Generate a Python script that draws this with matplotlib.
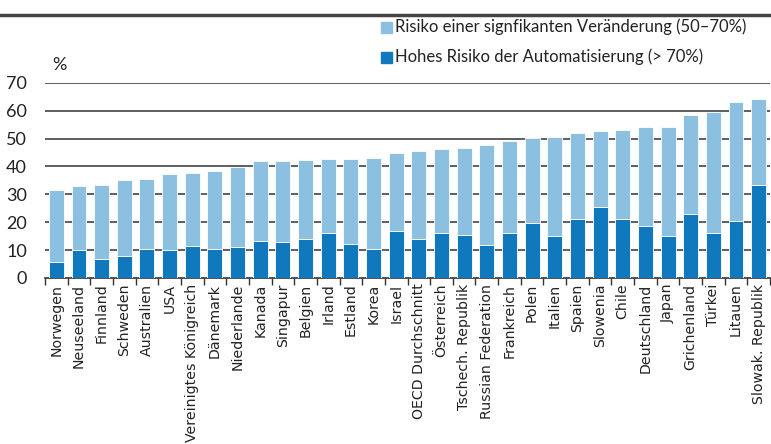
import matplotlib
matplotlib.use('Agg')
import matplotlib.pyplot as plt
import numpy as np

## data (percent of jobs)
countries = ['Norwegen', 'Neuseeland', 'Finnland', 'Schweden', 'Australien', 'USA',
             'Vereinigtes Königreich', 'Dänemark', 'Niederlande', 'Kanada', 'Singapur',
             'Belgien', 'Irland', 'Estland', 'Korea', 'Israel', 'OECD Durchschnitt',
             'Österreich', 'Tschech. Republik', 'Russian Federation', 'Frankreich',
             'Polen', 'Italien', 'Spaien', 'Slowenia', 'Chile', 'Deutschland', 'Japan',
             'Grichenland', 'Türkei', 'Litauen', 'Slowak. Republik']
high_risk = [5.6, 9.9, 6.9, 7.8, 10.5, 10.1, 11.6, 10.5, 11.2, 13.1, 12.8,
             13.8, 16.0, 12.2, 10.5, 16.7, 13.8, 16.3, 15.3, 11.8, 16.3,
             19.7, 14.9, 21.3, 25.6, 21.3, 18.5, 14.9, 23.1, 16.3, 20.6, 33.5]
total_risk = [31.4, 32.8, 33.5, 35.3, 35.5, 37.2, 37.6, 38.4, 39.9, 42.1, 42.1,
              42.3, 42.7, 42.7, 43.1, 44.8, 45.6, 46.1, 46.5, 47.5, 49.2,
              50.2, 50.6, 52.0, 52.7, 53.1, 54.0, 54.0, 58.5, 59.5, 63.0, 64.3]
change_risk = [t - h for t, h in zip(total_risk, high_risk)]

yticks = [0, 10, 20, 30, 40, 50, 60, 70]

light_blue = '#8bc0e0'
dark_blue = '#1078bd'
label_font = ['Lato', 'DejaVu Sans']

fig = plt.figure(figsize=(7.71, 4.44), dpi=100)
ax = fig.add_axes([45/771, 166/444, 725/771, 195.3/444])

x = np.arange(len(countries))
ax.bar(x, high_risk, width=0.66, color=dark_blue, edgecolor='white', linewidth=0.6, zorder=3)
ax.bar(x, change_risk, bottom=high_risk, width=0.66, color=light_blue,
       edgecolor='white', linewidth=0.6, zorder=3)

ax.set_xlim(-0.5, len(countries) - 0.5)
ax.set_ylim(0, 70)
ax.set_yticks(yticks)
ax.set_yticklabels([str(v) for v in yticks], family=label_font, fontsize=13, color='#222222')
ax.tick_params(axis='y', length=0, pad=13)

## horizontal grid lines
for v in yticks[1:]:
    ax.axhline(v, color='#333333', linewidth=1.1, zorder=1)

## category labels, tick marks between the bars
ax.set_xticks(x)
ax.set_xticklabels(countries, rotation=90, fontsize=10.2, color='#222222')
ax.tick_params(axis='x', which='major', length=0, pad=4)
ax.set_xticks(np.arange(-0.5, len(countries)), minor=True)
ax.tick_params(axis='x', which='minor', length=5, width=1.0, color='#333333', direction='out')

for side in ['top', 'right', 'left']:
    ax.spines[side].set_visible(False)
ax.spines['bottom'].set_color('#333333')
ax.spines['bottom'].set_linewidth(1.2)

ax.text(-0.2, 74.5, '%', fontsize=13, family=label_font, color='#222222')

## legend as two rows above the plot
fig.patches.append(plt.Rectangle((381/771, 1 - 33/444), 11/771, 11/444,
                                 transform=fig.transFigure, color=light_blue))
fig.patches.append(plt.Rectangle((381/771, 1 - 63/444), 11/771, 11/444,
                                 transform=fig.transFigure, color=dark_blue))
fig.text(395/771, 1 - 27/444, 'Risiko einer signfikanten Veränderung (50–70%)',
         va='center', fontsize=12, family=label_font, color='#222222')
fig.text(395/771, 1 - 57/444, 'Hohes Risiko der Automatisierung (> 70%)',
         va='center', fontsize=12, family=label_font, color='#222222')

## heavy rule along the top
fig.add_artist(plt.Line2D([0, 1], [1 - 15/444, 1 - 15/444], transform=fig.transFigure,
                          color='#444444', linewidth=2.5))

fig.savefig('out.png', dpi=100)
